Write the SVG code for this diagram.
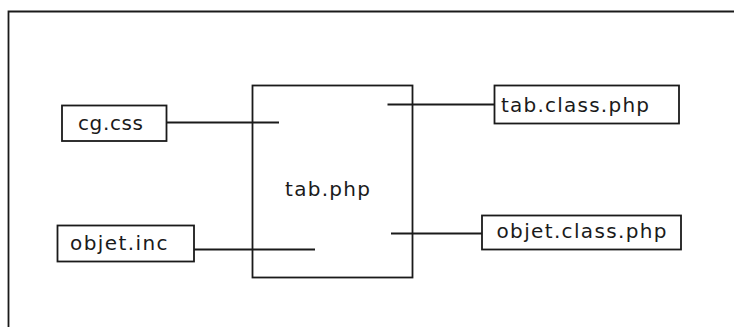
<svg xmlns="http://www.w3.org/2000/svg" width="734" height="327" viewBox="0 0 734 327">
<style>
.box{fill:#fff;stroke:#1a1a1a;stroke-width:1.8}
.ln{stroke:#1a1a1a;stroke-width:1.8;fill:none}
.t{font-family:"DejaVu Sans","Verdana",sans-serif;font-size:20px;fill:#1a1a1a}
</style>
<rect width="734" height="327" fill="#fff"/>
<g id="frame">
<path class="ln" d="M8.5,327 V11.5 H734" stroke-width="2"/>
</g>
<g id="tab_php">
<rect class="box" x="252.5" y="85.5" width="160" height="192"/>
<text class="t" x="285" y="196" textLength="85" lengthAdjust="spacing">tab.php</text>
</g>
<g id="cg_css">
<rect class="box" x="62" y="105.5" width="104.5" height="35.5"/>
<text class="t" x="78" y="129.5" textLength="65" lengthAdjust="spacing">cg.css</text>
</g>
<g id="objet_inc">
<rect class="box" x="57.5" y="225.5" width="136.5" height="36"/>
<text class="t" x="70" y="250" textLength="97.5" lengthAdjust="spacing">objet.inc</text>
</g>
<g id="tab_class_php">
<rect class="box" x="494.5" y="85.5" width="184.5" height="38"/>
<text class="t" x="501" y="112" textLength="148" lengthAdjust="spacing">tab.class.php</text>
</g>
<g id="objet_class_php">
<rect class="box" x="482" y="215.5" width="199" height="34"/>
<text class="t" x="496.5" y="238" textLength="170" lengthAdjust="spacing">objet.class.php</text>
</g>
<g id="connectors">
<line class="ln" x1="166.5" y1="122.5" x2="279" y2="122.5"/>
<line class="ln" x1="194" y1="249.5" x2="315" y2="249.5"/>
<line class="ln" x1="387.5" y1="104.5" x2="494.5" y2="104.5"/>
<line class="ln" x1="391" y1="233.5" x2="482" y2="233.5"/>
</g>
</svg>
